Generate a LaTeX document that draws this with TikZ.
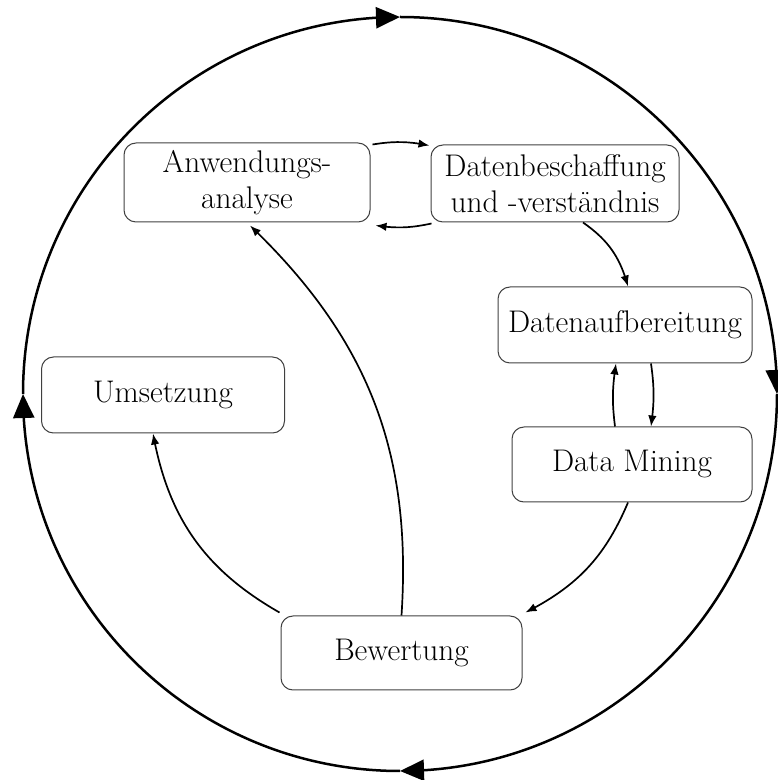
\documentclass[tikz,border=0pt]{standalone}
\usetikzlibrary{arrows.meta,bending}
\begin{document}
\begin{tikzpicture}[x=1pt,y=1pt,
  phase/.style={draw=black!75, line width=1pt, rounded corners=12pt,
    align=center, inner sep=0pt,
    font=\fontsize{31.3}{35.5}\selectfont},
  flow/.style={line width=1.7pt, -{Latex[length=11pt,width=8.5pt]}},
  ringarrow/.style={line width=2.5pt, -{Triangle[length=24pt,width=21pt]}}]
\useasboundingbox (0,0) rectangle (778,780);

% centre of the outer cycle
\coordinate (C) at (400,386);

% process phases
\node[phase, minimum width=246pt, minimum height=79pt] (A) at (247,597.5) {Anwendungs-\\analyse};
\node[phase, minimum width=248pt, minimum height=77pt] (D) at (555,596.5) {Datenbeschaffung\\und -verständnis};
\node[phase, minimum width=254pt, minimum height=76pt] (P) at (625,455) {Datenaufbereitung};
\node[phase, minimum width=240pt, minimum height=75pt] (M) at (632,315.5) {Data Mining};
\node[phase, minimum width=243pt, minimum height=76pt] (U) at (163,385) {Umsetzung};
\node[phase, minimum width=241pt, minimum height=74pt] (B) at (401.5,127) {Bewertung};

% transitions between phases
\draw[flow] ([shift={(2,-2)}]A.north east) to[bend left=10] ([shift={(-1,-1)}]D.north west);
\draw[flow] ([shift={(1,-1)}]D.south west) to[bend left=10] ([shift={(5,-3)}]A.south east);
\draw[flow] ([xshift=28pt]D.south) to[bend left=20] ([xshift=3pt]P.north);
\draw[flow] ([xshift=-17pt]M.north) to[bend left=8] ([xshift=-9pt]P.south);
\draw[flow] ([xshift=26pt]P.south) to[bend left=8] ([xshift=19pt]M.north);
\draw[flow] ([xshift=-4pt]M.south) to[bend left=20] ([shift={(3,3)}]B.north east);
\draw[flow] (B.north) to[bend right=25] ([shift={(3,-3)}]A.south);
\draw[flow] ([shift={(-1,3)}]B.north west) to[bend left=25] ([xshift=-10pt]U.south);

% outer cycle, drawn clockwise in four quarters
\draw[ringarrow] ([shift={(180:377)}]C) arc[start angle=180, end angle=90, radius=377];
\draw[ringarrow] ([shift={(90:377)}]C) arc[start angle=90, end angle=0, radius=377];
\draw[ringarrow] ([shift={(0:377)}]C) arc[start angle=0, end angle=-90, radius=377];
\draw[ringarrow] ([shift={(-90:377)}]C) arc[start angle=-90, end angle=-180, radius=377];
\end{tikzpicture}
\end{document}
